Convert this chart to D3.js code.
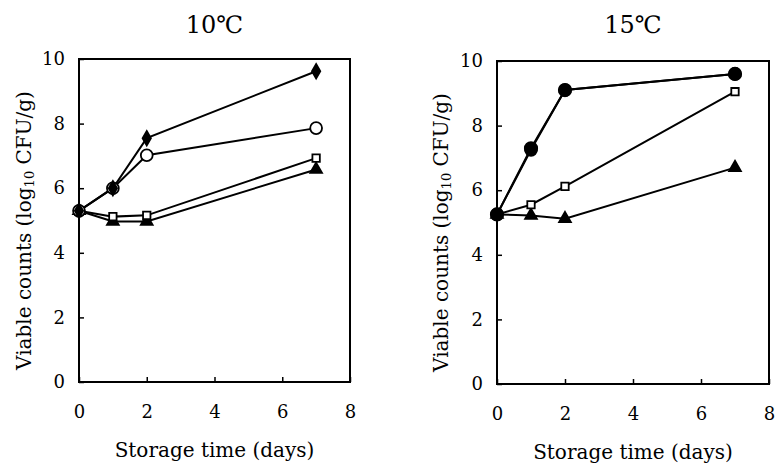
<!DOCTYPE html>
<html>
<head>
<meta charset="utf-8">
<script src="https://cdn.jsdelivr.net/npm/d3@7"></script>
<style>
  html, body { margin: 0; padding: 0; background: #fff; }
  svg { display: block; }
</style>
</head>
<body>
<svg id="chart" width="776" height="466"></svg>
<script>
// Storage days sampled for every series
const days = [0, 1, 2, 7];
const xTicks = [0, 2, 4, 6, 8];
const yTicks = [0, 2, 4, 6, 8, 10];
const panelTitles = ["10\u2103", "15\u2103"];
const xAxisTitle = "Storage time (days)";

// 10 °C counts (log10 CFU/g)
const diamond10 = [5.3, 6.0, 7.55, 9.62];
const openCircle10 = [5.3, 6.0, 7.02, 7.86];
const square10 = [5.3, 5.12, 5.16, 6.93];
const triangle10 = [5.3, 4.97, 4.97, 6.58];

// 15 °C counts (log10 CFU/g)
const filledCircle15 = [5.25, 7.3, 9.1, 9.6];
const openCircle15 = [5.25, 7.25, 9.1, 9.6];
const square15 = [5.25, 5.55, 6.12, 9.05];
const triangle15 = [5.25, 5.22, 5.12, 6.7];

const markerStyles = {
  diamond:      { type: d3.symbolDiamond,  size: 60, fill: "#000" },
  openCircle:   { type: d3.symbolCircle,   size: 110, fill: "#fff" },
  filledCircle: { type: d3.symbolCircle,   size: 120, fill: "#000" },
  square:       { type: d3.symbolSquare,   size: 55, fill: "#fff" },
  triangle:     { type: d3.symbolTriangle, size: 60, fill: "#000" }
};

const panels = [
  {
    title: panelTitles[0],
    box: { x0: 79, x1: 350, y0: 59, y1: 382 },
    yLabelX: 25,
    series: [
      { kind: "triangle", values: triangle10 },
      { kind: "square", values: square10 },
      { kind: "openCircle", values: openCircle10 },
      { kind: "diamond", values: diamond10 }
    ]
  },
  {
    title: panelTitles[1],
    box: { x0: 497, x1: 769, y0: 61, y1: 384 },
    yLabelX: 442,
    series: [
      { kind: "triangle", values: triangle15 },
      { kind: "square", values: square15 },
      { kind: "openCircle", values: openCircle15 },
      { kind: "filledCircle", values: filledCircle15 }
    ]
  }
];

const svg = d3.select("#chart");
const serif = "DejaVu Serif, serif";

panels.forEach(p => {
  const b = p.box;
  const x = d3.scaleLinear().domain([0, 8]).range([b.x0, b.x1]);
  const y = d3.scaleLinear().domain([0, 10]).range([b.y1, b.y0]);
  const g = svg.append("g");

  // Bottom axis: inward ticks, labels below
  const xAxis = d3.axisBottom(x).tickValues(xTicks).tickSizeInner(-5).tickSizeOuter(0).tickPadding(23);
  const gx = g.append("g").attr("transform", `translate(0,${b.y1})`).call(xAxis)
    .attr("font-family", serif).attr("font-size", 18);
  gx.select(".domain").remove();
  gx.selectAll(".tick line").attr("stroke", "#000").attr("stroke-width", 1.5);
  gx.selectAll(".tick text").style("font-family", serif).style("font-size", "18px").attr("fill", "#000");

  // Left axis: inward ticks, labels to the left
  const yAxis = d3.axisLeft(y).tickValues(yTicks).tickSizeInner(-5).tickSizeOuter(0).tickPadding(14);
  const gy = g.append("g").attr("transform", `translate(${b.x0},0)`).call(yAxis)
    .attr("font-family", serif).attr("font-size", 18);
  gy.select(".domain").remove();
  gy.selectAll(".tick line").attr("stroke", "#000").attr("stroke-width", 1.5);
  gy.selectAll(".tick text").style("font-family", serif).style("font-size", "18px").attr("fill", "#000");

  // Plot frame
  g.append("rect")
    .attr("x", b.x0).attr("y", b.y0)
    .attr("width", b.x1 - b.x0).attr("height", b.y1 - b.y0)
    .attr("fill", "none").attr("stroke", "#000").attr("stroke-width", 2);

  // Series lines
  const line = d3.line().x((d, i) => x(days[i])).y(d => y(d));
  p.series.forEach(s => {
    g.append("path").datum(s.values)
      .attr("d", line)
      .attr("fill", "none").attr("stroke", "#000").attr("stroke-width", 2);
  });

  // Series markers
  p.series.forEach(s => {
    const st = markerStyles[s.kind];
    const sym = d3.symbol().type(st.type).size(st.size);
    g.selectAll(null).data(s.values).enter().append("path")
      .attr("d", sym)
      .attr("transform", (d, i) => `translate(${x(days[i])},${y(d)})`)
      .attr("fill", st.fill).attr("stroke", "#000").attr("stroke-width", 1.8);
  });

  // Panel title
  g.append("text")
    .attr("x", (b.x0 + b.x1) / 2)
    .attr("y", 33)
    .attr("text-anchor", "middle")
    .style("font-family", "DejaVu Serif, Noto Sans CJK JP, serif")
    .style("font-size", "24px")
    .attr("fill", "#000")
    .text(p.title);

  // X axis title
  g.append("text")
    .attr("x", (b.x0 + b.x1) / 2)
    .attr("y", b.y1 + 75)
    .attr("text-anchor", "middle")
    .style("font-family", serif)
    .style("font-size", "20px")
    .attr("fill", "#000")
    .text(xAxisTitle);

  // Y axis title with subscript
  const yt = g.append("text")
    .attr("transform", `translate(${p.yLabelX},${(b.y0 + b.y1) / 2 + 10}) rotate(-90)`)
    .attr("text-anchor", "middle")
    .attr("dominant-baseline", "middle")
    .style("font-family", serif)
    .style("font-size", "20px")
    .attr("fill", "#000");
  yt.append("tspan").text("Viable counts (log");
  yt.append("tspan").style("font-size", "13px").attr("dy", 5).text("10");
  yt.append("tspan").attr("dy", -5).text(" CFU/g)");
});
</script>
</body>
</html>
